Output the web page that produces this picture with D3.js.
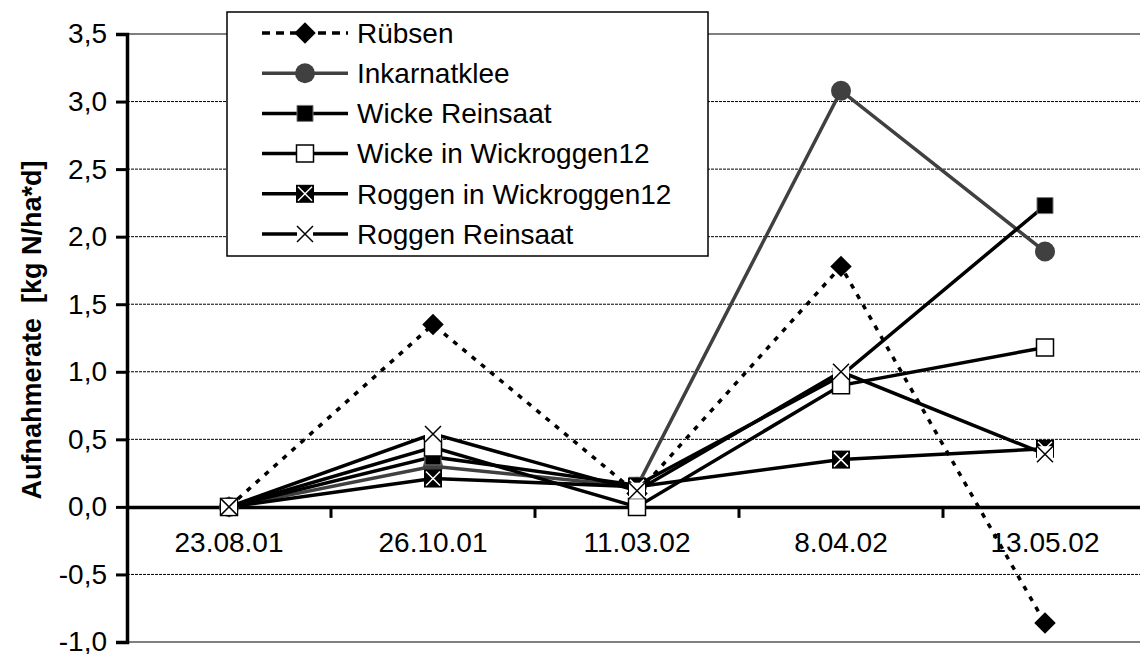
<!DOCTYPE html>
<html>
<head>
<meta charset="utf-8">
<script src="https://cdn.jsdelivr.net/npm/d3@7"></script>
<style>
  body { margin: 0; background: #fff; }
  text { font-family: "Liberation Sans", Arial, sans-serif; }
</style>
</head>
<body>
<div id="chart"></div>
<script>
// data
const dates = ["23.08.01", "26.10.01", "11.03.02", "8.04.02", "13.05.02"];
const ruebsen = [0, 1.35, 0.1, 1.78, -0.86];
const inkarnatklee = [0, 0.3, 0.15, 3.08, 1.89];
const wickeReinsaat = [0, 0.37, 0.16, 0.97, 2.23];
const wickeInWickroggen = [0, 0.44, 0, 0.9, 1.18];
const roggenInWickroggen = [0, 0.21, 0.15, 0.35, 0.43];
const roggenReinsaat = [0, 0.54, 0.12, 1.0, 0.39];
const seriesNames = ["Rübsen", "Inkarnatklee", "Wicke Reinsaat", "Wicke in Wickroggen12", "Roggen in Wickroggen12", "Roggen Reinsaat"];
const yTicks = [-1, -0.5, 0, 0.5, 1, 1.5, 2, 2.5, 3, 3.5];

const width = 1140;
const height = 654;
const fontSize = 28;

const svg = d3.select("#chart").append("svg")
    .attr("width", width)
    .attr("height", height);

const x = d3.scaleBand().domain(dates).range([127, 1147]);
const y = d3.scaleLinear().domain([-1, 3.5]).range([642, 34]);
const cx = d => x(d) + x.bandwidth() / 2;

const fmt = d3.formatLocale({ decimal: ",", thousands: ".", grouping: [3], currency: ["", ""], minus: "-" }).format(".1f");

// look of each series (marker type, line colour, dash)
const styles = [
    { marker: "diamond", color: "#000", dash: "5,7", width: 3.5 },
    { marker: "circle", color: "#404040", dash: null, width: 3.5 },
    { marker: "blacksquare", color: "#000", dash: null, width: 3.5 },
    { marker: "whitesquare", color: "#000", dash: null, width: 3.5 },
    { marker: "boxx", color: "#000", dash: null, width: 3.5 },
    { marker: "x", color: "#000", dash: null, width: 3.5 }
];
const allValues = [ruebsen, inkarnatklee, wickeReinsaat, wickeInWickroggen, roggenInWickroggen, roggenReinsaat];
const series = seriesNames.map((name, i) => ({ name, values: allValues[i], style: styles[i] }));

// gridlines
svg.append("g").selectAll("line")
    .data(yTicks)
    .enter().append("line")
    .attr("x1", 127).attr("x2", width)
    .attr("y1", d => y(d)).attr("y2", d => y(d))
    .attr("stroke", d => (d === 3.5 || d === -1) ? "#808080" : "#000")
    .attr("stroke-width", d => (d === 3.5 || d === -1) ? 2 : 1)
    .attr("stroke-dasharray", d => (d === 3.5 || d === -1 || d === 0) ? null : "3,1");

// y axis
const yAxis = svg.append("g")
    .attr("transform", "translate(127,0)")
    .call(d3.axisLeft(y).tickValues(yTicks).tickSize(11).tickPadding(9).tickFormat(fmt));
yAxis.select(".domain").attr("stroke-width", 3.5);
yAxis.selectAll(".tick line").attr("stroke-width", 3);
yAxis.selectAll("text").attr("font-size", fontSize).attr("fill", "#000")
    .style("font-family", "'Liberation Sans', Arial, sans-serif");

// x axis at zero
const xAxis = svg.append("g")
    .attr("transform", `translate(0,${y(0)})`)
    .call(d3.axisBottom(x).tickSize(0).tickPadding(25).tickSizeOuter(0));
xAxis.select(".domain").attr("stroke-width", 3.5);
xAxis.selectAll("text").attr("font-size", fontSize).attr("fill", "#000")
    .style("font-family", "'Liberation Sans', Arial, sans-serif");
xAxis.selectAll(".boundary")
    .data(dates.slice(1))
    .enter().append("line")
    .attr("x1", d => x(d)).attr("x2", d => x(d))
    .attr("y1", 0).attr("y2", 11)
    .attr("stroke", "#000").attr("stroke-width", 3);

// y title
svg.append("text")
    .attr("transform", "translate(32,330) rotate(-90)")
    .attr("text-anchor", "middle")
    .attr("dy", "0.35em")
    .attr("font-size", 27)
    .attr("font-weight", "bold")
    .style("white-space", "pre")
    .text("Aufnahmerate  [kg N/ha*d]");

function drawMarker(g, type) {
    if (type === "diamond") {
        g.append("path").attr("d", d3.symbol(d3.symbolSquare, 230)())
            .attr("transform", "rotate(45)").attr("fill", "#000");
    } else if (type === "circle") {
        g.append("path").attr("d", d3.symbol(d3.symbolCircle, 314)()).attr("fill", "#404040");
    } else if (type === "blacksquare") {
        g.append("path").attr("d", d3.symbol(d3.symbolSquare, 256)())
            .attr("fill", "#000").attr("stroke", "#777").attr("stroke-width", 1);
    } else if (type === "whitesquare") {
        g.append("path").attr("d", d3.symbol(d3.symbolSquare, 289)())
            .attr("fill", "#fff").attr("stroke", "#000").attr("stroke-width", 1.5);
    } else if (type === "boxx") {
        g.append("path").attr("d", d3.symbol(d3.symbolSquare, 324)()).attr("fill", "#000");
        g.append("path").attr("d", "M-7,-7L7,7M-7,7L7,-7").attr("stroke", "#fff").attr("stroke-width", 1.5);
    } else if (type === "x") {
        g.append("path").attr("d", d3.symbol(d3.symbolSquare, 256)()).attr("fill", "#fff");
        g.append("path").attr("d", "M-8,-8L8,8M-8,8L8,-8").attr("stroke", "#000").attr("stroke-width", 1.5);
    }
}

const line = d3.line()
    .x((d, i) => cx(dates[i]))
    .y(d => y(d));

// series, drawn in order like the original
series.forEach(s => {
    const g = svg.append("g");
    g.append("path")
        .datum(s.values)
        .attr("d", line)
        .attr("fill", "none")
        .attr("stroke", s.style.color)
        .attr("stroke-width", s.style.width)
        .attr("stroke-dasharray", s.style.dash);
    g.selectAll(".m")
        .data(s.values)
        .enter().append("g")
        .attr("transform", (d, i) => `translate(${cx(dates[i])},${y(d)})`)
        .each(function() { drawMarker(d3.select(this), s.style.marker); });
});

// legend
const legend = svg.append("g");
legend.append("rect")
    .attr("x", 227).attr("y", 12)
    .attr("width", 481).attr("height", 244)
    .attr("fill", "#fff").attr("stroke", "#000").attr("stroke-width", 1.5);

const rows = legend.selectAll(".row")
    .data(series)
    .enter().append("g")
    .attr("transform", (d, i) => `translate(0,${33 + i * 40.2})`);
rows.append("line")
    .attr("x1", 262).attr("x2", 348)
    .attr("stroke", d => d.style.color)
    .attr("stroke-width", d => d.style.width)
    .attr("stroke-dasharray", d => d.style.dash ? "8,6" : null);
rows.append("g")
    .attr("transform", "translate(305,0)")
    .each(function(d) { drawMarker(d3.select(this), d.style.marker); });
rows.append("text")
    .attr("x", 357)
    .attr("dy", "0.35em")
    .attr("font-size", fontSize)
    .text(d => d.name);
</script>
</body>
</html>
